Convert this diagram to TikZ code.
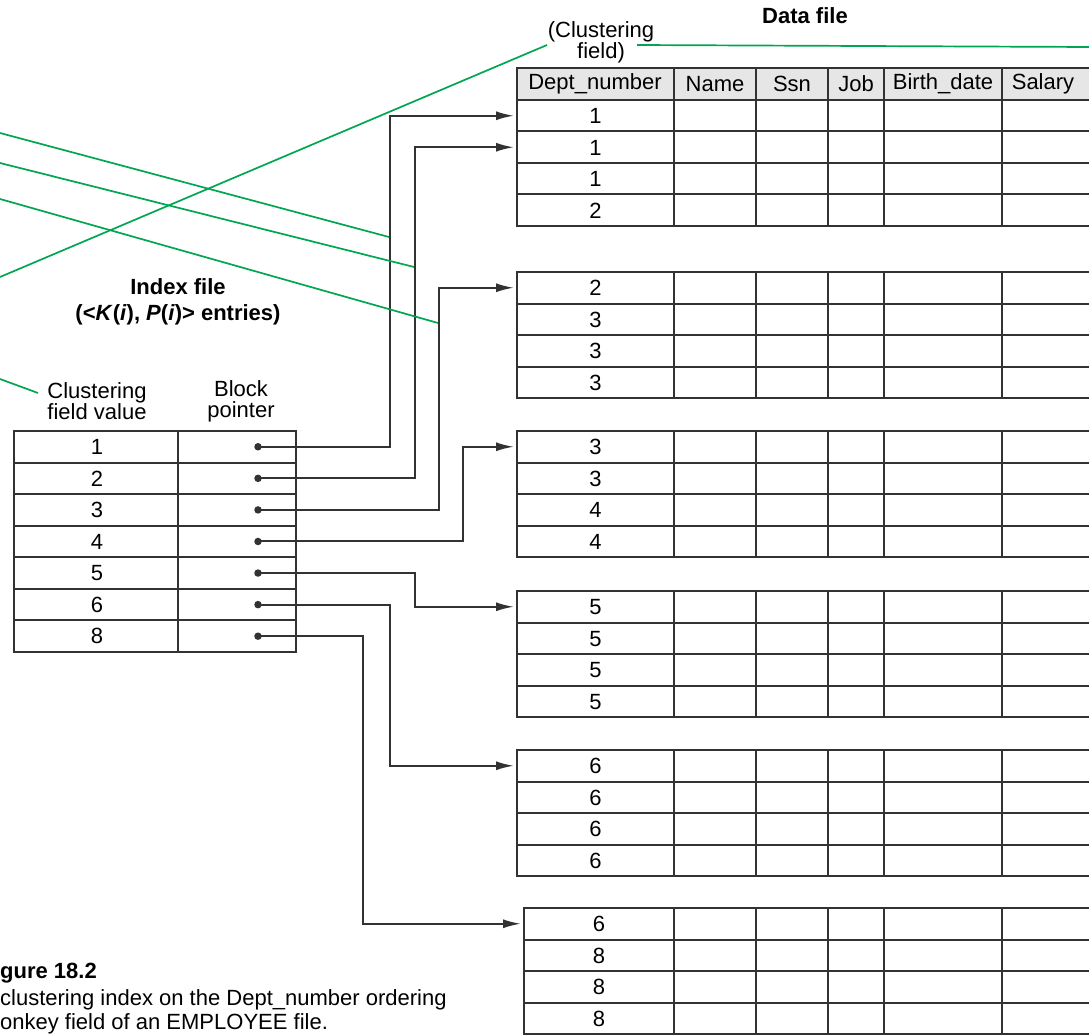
\documentclass[tikz,border=0pt]{standalone}
\usepackage{fontspec}
\setmainfont{Liberation Sans}
\usetikzlibrary{arrows.meta}
\definecolor{annogreen}{RGB}{0,166,81}
\definecolor{linegray}{RGB}{50,50,50}
\definecolor{hdrgray}{RGB}{230,230,230}

\begin{document}
\begin{tikzpicture}[x=1pt,y=-1pt,
  grid/.style={draw=linegray,line width=2pt},
  ptr/.style={draw=linegray,line width=2pt,-{Latex[length=18pt,width=9pt]}},
  anno/.style={draw=annogreen,line width=1.7pt},
  lbl/.style={inner sep=0.75pt,font=\fontsize{22}{21}\selectfont},
  ttl/.style={inner sep=0.75pt,font=\fontsize{22}{26}\selectfont\bfseries,align=center},
  dot/.style={circle,fill=linegray,inner sep=0pt,minimum size=7.5pt}]
\useasboundingbox (0,0) rectangle (1089,1035);
\clip (0,0) rectangle (1089,1035);

% Titles
\draw (178,302) node (idxttl) [ttl] {Index file\\(<\textit{K}(\textit{i}), \textit{P}(\textit{i})> entries)};
\draw (805,16) node (datttl) [ttl] {Data file};
\draw (601,42) node (cfield) [lbl,align=center] {(Clustering\\field)};

% Index file table
\draw (97,401) node (hkey) [lbl,align=center] {Clustering\\field value};
\draw (241,401) node (hptr) [lbl,align=center] {Block\\pointer};
\draw[grid] (14,431) rectangle (296,652);
\draw[grid] (178,431) -- (178,652);
\foreach \i in {1,...,6}
  \draw[grid] (14,{431+31.57*\i}) -- (296,{431+31.57*\i});
\foreach \k [count=\i] in {1,2,3,4,5,6,8} {
  \node[lbl] (k\i) at (97,{415.2+31.57*\i}) {\k};
  \node[dot] (p\i) at (258,{415.2+31.57*\i}) {};
}

% Data file header
\draw[grid,fill=hdrgray] (517,68) rectangle (1100,100);
\foreach \c in {674,756,828,884,1002}
  \draw[grid] (\c,68) -- (\c,100);
\foreach \x/\t in {595/Dept\_number,715/Name,792/Ssn,856/Job,943/Birth\_date,1043/Salary}
  \node[lbl] at (\x,84) {\t};

% Data file blocks
\foreach \top/\lft/\vals [count=\b] in {100/517/{1,1,1,2},272/517/{2,3,3,3},431/517/{3,3,4,4},591/517/{5,5,5,5},750/517/{6,6,6,6},908/524/{6,8,8,8}} {
  \draw[grid] (\lft,\top) rectangle (1100,{\top+126});
  \foreach \c in {674,756,828,884,1002}
    \draw[grid] (\c,\top) -- (\c,{\top+126});
  \foreach \r in {1,2,3}
    \draw[grid] (\lft,{\top+31.5*\r}) -- (1100,{\top+31.5*\r});
  \foreach \v [count=\r] in \vals {
    \node[lbl] (b\b-\r) at ({(\lft+674)/2},{\top+31.5*\r-15.25}) {\v};
    \coordinate (in\b-\r) at ({\lft-3},{\top+31.5*\r-15.75});
  }
}

% Block pointers
\coordinate (ch1) at (390,0);
\coordinate (ch2) at (415,0);
\coordinate (ch3) at (439,0);
\coordinate (ch4) at (463,0);
\coordinate (ch5) at (363,0);
\draw[ptr] (p1.center) -| (ch1 |- in1-1) -- (in1-1);
\draw[ptr] (p2.center) -| (ch2 |- in1-2) -- (in1-2);
\draw[ptr] (p3.center) -| (ch3 |- in2-1) -- (in2-1);
\draw[ptr] (p4.center) -| (ch4 |- in3-1) -- (in3-1);
\draw[ptr] (p5.center) -| (ch2 |- in4-1) -- (in4-1);
\draw[ptr] (p6.center) -| (ch1 |- in5-1) -- (in5-1);
\draw[ptr] (p7.center) -| (ch5 |- in6-1) -- (in6-1);

% Green lines
\coordinate (ga0) at (0,133);   \coordinate (ga1) at (389,237);
\coordinate (gb0) at (0,163);   \coordinate (gb1) at (414,267);
\coordinate (gc0) at (0,199);   \coordinate (gc1) at (438,323);
\coordinate (gd0) at (0,277);   \coordinate (gd1) at (547,45);
\coordinate (ge0) at (0,379);   \coordinate (ge1) at (38,393);
\coordinate (gf0) at (637,45);  \coordinate (gf1) at (1089,47);
\draw[anno] (ga0) -- (ga1);
\draw[anno] (gb0) -- (gb1);
\draw[anno] (gc0) -- (gc1);
\draw[anno] (gd0) -- (gd1);
\draw[anno] (ge0) -- (ge1);
\draw[anno] (gf0) -- (gf1);

% Caption
\draw (0,978) node (capnum) [anchor=base west,inner sep=0pt,font=\fontsize{22}{22}\selectfont\bfseries] {gure 18.2};
\draw (0,1005) node (capl1) [anchor=base west,inner sep=0pt,font=\fontsize{22}{22}\selectfont] {clustering index on the Dept\_number ordering};
\draw (0,1029) node (capl2) [anchor=base west,inner sep=0pt,font=\fontsize{22}{22}\selectfont] {onkey field of an EMPLOYEE file.};
\end{tikzpicture}
\end{document}
